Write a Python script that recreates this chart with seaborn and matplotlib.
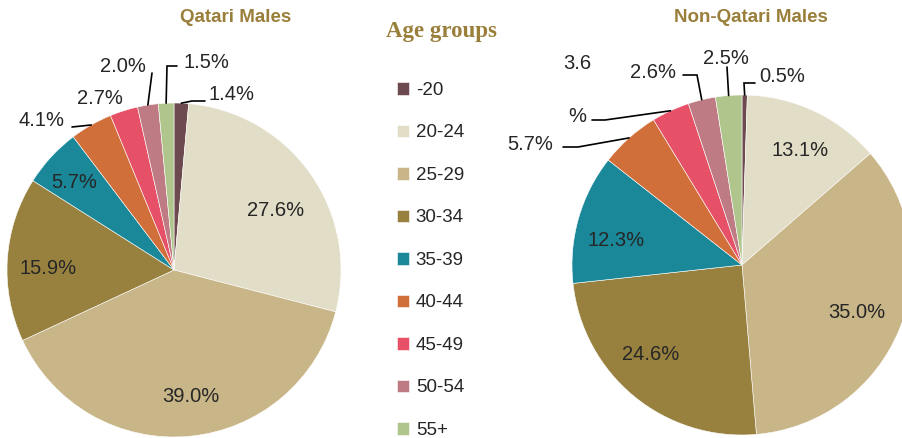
import numpy as np
import matplotlib.pyplot as plt
import seaborn as sns

# Data
age_groups = ['-20', '20-24', '25-29', '30-34', '35-39', '40-44', '45-49', '50-54', '55+']
qatari_males = [1.4, 27.6, 39.0, 15.9, 5.7, 4.1, 2.7, 2.0, 1.5]
non_qatari_males = [0.5, 13.1, 35.0, 24.6, 12.3, 5.7, 3.6, 2.6, 2.5]
qatari_text = ['1.4%', '27.6%', '39.0%', '15.9%', '5.7%', '4.1%', '2.7%', '2.0%', '1.5%']
non_qatari_text = ['0.5%', '13.1%', '35.0%', '24.6%', '12.3%', '5.7%', '3.6\n\n\n%', '2.6%', '2.5%']

colors = ['#6D4A4F', '#E2DDC7', '#C9B688', '#98813F', '#1A8899',
          '#D06F3A', '#E75168', '#BF7B83', '#B0C58B']
gold = '#9A7F3A'
txt = '#262626'

sns.set_style('white')
plt.rcParams['font.family'] = ['Liberation Sans', 'DejaVu Sans']

fig = plt.figure(figsize=(9.03, 4.38), dpi=100)
ax = fig.add_axes([0, 0, 1, 1])


def draw_pie(values, center, radius, texts, label_pos, leaders):
    wedges, _ = ax.pie(values, colors=colors, startangle=-90, counterclock=True,
                       center=center, radius=radius,
                       wedgeprops=dict(edgecolor='white', linewidth=0.4))
    for i, w in enumerate(wedges):
        x, y = label_pos[i]
        ax.text(x, y, texts[i], ha='center', va='center', fontsize=14.5, color=txt,
                linespacing=0.9)
        if i in leaders:
            ang = np.deg2rad((w.theta1 + w.theta2) / 2)
            px = w.center[0] + w.r * np.cos(ang)
            py = w.center[1] + w.r * np.sin(ang)
            pts = [(px, py)] + leaders[i]
            ax.plot([p[0] for p in pts], [p[1] for p in pts], color='black', lw=1.2,
                    solid_joinstyle='miter')
    return wedges


# Qatari males
wedges = draw_pie(qatari_males, (174, 270), 167, qatari_text,
                  [(232, 95), (276, 211), (191, 396), (48, 268), (74, 182),
                   (42, 120), (100, 99), (123, 66), (206, 62)],
                  {0: [(192, 101), (205, 101)], 8: [(167, 66), (177, 66)],
                   7: [(152, 73)], 5: [(72, 127)]})

# Non-Qatari males
draw_pie(non_qatari_males, (742, 265), 170, non_qatari_text,
         [(782, 76), (800, 150), (857, 312), (651, 355), (616, 240),
          (530, 145), (577, 90), (653, 72), (726, 58)],
         {0: [(744, 83), (755, 83)], 8: [(727, 67)], 7: [(697, 75), (683, 75)],
          6: [(605, 120), (592, 120)], 5: [(578, 147), (563, 147)]})

ax.set_xlim(0, 903)
ax.set_ylim(438, 0)
ax.set_aspect('auto')
ax.axis('off')

# Titles
title_font = ['Liberation Sans Narrow', 'Liberation Sans', 'DejaVu Sans']
ax.text(236, 18, 'Qatari Males', ha='center', va='center', fontsize=13.5,
        fontweight='bold', color=gold, family=title_font)
ax.text(751, 18, 'Non-Qatari Males', ha='center', va='center', fontsize=13.5,
        fontweight='bold', color=gold, family=title_font)
ax.text(441, 32, 'Age groups', ha='center', va='center', fontsize=16.5,
        fontweight='bold', color=gold, family=['Liberation Serif', 'DejaVu Serif'])

# Legend
leg = ax.legend(wedges, age_groups, loc='upper left', bbox_to_anchor=(397 / 903, 1 - 82 / 438),
                frameon=False, fontsize=13.5, labelspacing=1.36, handlelength=0.65,
                handleheight=0.65, handletextpad=0.35, borderpad=0, borderaxespad=0)
for t in leg.get_texts():
    t.set_color(txt)

plt.savefig('out.png', dpi=100)
